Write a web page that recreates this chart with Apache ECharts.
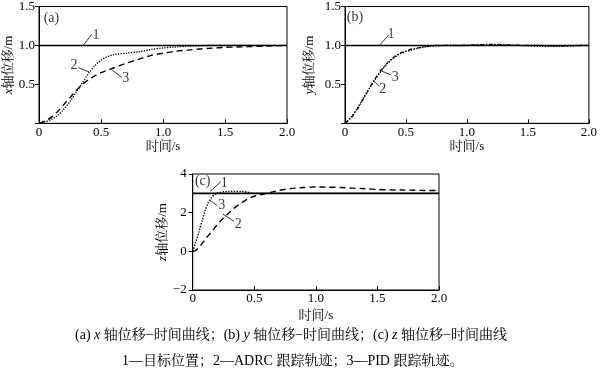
<!DOCTYPE html>
<html>
<head>
<meta charset="utf-8">
<script src="https://cdn.jsdelivr.net/npm/echarts@6/dist/echarts.min.js"></script>
<style>html,body{margin:0;padding:0;background:#fff}#c{width:600px;height:373px}</style>
</head>
<body>
<div id="c"></div>
<script>
// ---------- data ----------
const xTicks = [0, 0.5, 1.0, 1.5, 2.0];
// (a) x axis displacement
const tA = [0,0.05,0.1,0.15,0.2,0.25,0.3,0.35,0.4,0.45,0.5,0.55,0.6,0.65,0.7,0.8,0.9,1.0,1.1,1.2,1.3,1.4,1.5,1.6,1.7,1.8,1.9,2.0];
const a1 = [1,1,1,1,1,1,1,1,1,1,1,1,1,1,1,1,1,1,1,1,1,1,1,1,1,1,1,1];
const a2 = [0,0.02,0.05,0.1,0.18,0.28,0.4,0.52,0.64,0.74,0.81,0.855,0.88,0.893,0.9,0.918,0.948,0.968,0.98,0.99,0.995,1.0,1.0,1.0,1.0,1.0,1.0,1.0];
const a3 = [0,0.03,0.08,0.15,0.24,0.33,0.42,0.5,0.56,0.61,0.65,0.68,0.71,0.74,0.77,0.82,0.87,0.9,0.925,0.94,0.955,0.965,0.975,0.98,0.985,0.99,0.995,1.0];
// (b) y axis displacement
const tB = [0,0.05,0.1,0.15,0.2,0.25,0.3,0.35,0.4,0.45,0.5,0.55,0.6,0.65,0.7,0.75,0.8,0.9,1.0,1.1,1.2,1.3,1.4,1.5,1.6,1.7,1.8,1.9,2.0];
const b1 = [1,1,1,1,1,1,1,1,1,1,1,1,1,1,1,1,1,1,1,1,1,1,1,1,1,1,1,1,1];
const b2 = [0,0.08,0.19,0.32,0.45,0.57,0.68,0.77,0.84,0.89,0.92,0.945,0.965,0.98,0.99,0.995,0.997,1.0,1.0,1.005,1.01,1.005,1.0,0.995,0.99,0.99,0.99,0.995,1.0];
const b3 = [0,0.07,0.18,0.31,0.45,0.58,0.69,0.78,0.85,0.9,0.93,0.955,0.97,0.985,0.995,1.0,1.0,1.0,1.005,1.01,1.015,1.01,1.005,1.0,1.0,0.995,0.995,1.0,1.0];
// (c) z axis displacement
const tC = [0,0.025,0.05,0.075,0.1,0.125,0.15,0.175,0.2,0.25,0.3,0.35,0.4,0.45,0.5,0.6,0.7,0.8,0.9,1.0,1.1,1.2,1.3,1.4,1.5,1.6,1.7,1.8,1.9,2.0];
const c1 = [3,3,3,3,3,3,3,3,3,3,3,3,3,3,3,3,3,3,3,3,3,3,3,3,3,3,3,3,3,3];
const c2 = [0,0.05,0.2,0.4,0.6,0.8,0.98,1.18,1.38,1.72,2.02,2.3,2.52,2.72,2.85,3.0,3.15,3.25,3.3,3.33,3.32,3.3,3.27,3.24,3.2,3.18,3.17,3.16,3.15,3.15];
const c3 = [0,0.5,1.0,1.55,2.1,2.5,2.75,2.92,3.02,3.08,3.1,3.1,3.1,3.05,3.0,3.0,3.0,3.0,3.0,3.0,3.0,3.0,3.0,3.0,3.0,3.0,3.0,3.0,3.0,3.0];

// annotation labels (curve numbers) with leader lines, in data coordinates
const annA = [
  {text:'1', from:[0.357,1.0], to:[0.425,1.145], at:[0.46,1.13]},
  {text:'2', from:[0.406,0.658], to:[0.317,0.716], at:[0.282,0.75]},
  {text:'3', from:[0.586,0.688], to:[0.667,0.591], at:[0.70,0.575]}
];
const annB = [
  {text:'1', from:[0.283,1.0], to:[0.359,1.135], at:[0.378,1.143]},
  {text:'3', from:[0.283,0.681], to:[0.378,0.622], at:[0.413,0.596]},
  {text:'2', from:[0.235,0.546], to:[0.283,0.47], at:[0.31,0.441]}
];
const annC = [
  {text:'1', from:[0.141,3.10], to:[0.23,3.61], at:[0.257,3.53]},
  {text:'3', from:[0.141,2.63], to:[0.2,2.36], at:[0.236,2.36]},
  {text:'2', from:[0.244,1.93], to:[0.336,1.55], at:[0.37,1.38]}
];
const panelTags = [
  {text:'(a)', at:[0.1,1.35]},
  {text:'(b)', at:[0.081,1.366]},
  {text:'(c)', at:[0.081,3.61]}
];

// ---------- chart ----------
const FONT = "'Liberation Serif','Noto Serif CJK SC','Noto Sans CJK SC',serif";
const pair = (t, v) => t.map((x, i) => [x, v[i]]);

function xAxisFor(g, gap, margin) {
  return {
    type:'value', gridIndex:g, min:0, max:2, interval:0.5,
    axisLine:{show:true, onZero:false, lineStyle:{color:'#000', width:1}},
    axisTick:{show:true, inside:true, length:4, lineStyle:{color:'#000'}},
    axisLabel:{color:'#000', fontFamily:FONT, fontSize:13, margin:margin,
      formatter: v => v === 0 ? '0' : v.toFixed(1)},
    splitLine:{show:false},
    name:'时间/s', nameLocation:'middle', nameGap:gap,
    nameTextStyle:{color:'#000', fontFamily:FONT, fontSize:13}
  };
}
function yAxisFor(g, letter, min, max, interval, fmt, gap, margin) {
  return {
    type:'value', gridIndex:g, min:min, max:max, interval:interval,
    axisLine:{show:true, onZero:false, lineStyle:{color:'#000', width:1}},
    axisTick:{show:true, inside:false, length:4, lineStyle:{color:'#000'}},
    axisLabel:{color:'#000', fontFamily:FONT, fontSize:13, margin:margin, formatter:fmt},
    splitLine:{show:false},
    name:'{i|' + letter + '}轴位移/m', nameLocation:'middle', nameGap:gap, nameRotate:90,
    nameTextStyle:{color:'#000', fontFamily:FONT, fontSize:13,
      rich:{i:{fontStyle:'italic', fontFamily:FONT, fontSize:13, color:'#000'}}}
  };
}

const series = [];
function addPanel(g, t, s1, s2, s3, ann, tag, style2, style3) {
  series.push({type:'line', xAxisIndex:g, yAxisIndex:g, data:pair(t, s1), showSymbol:false,
    lineStyle:{color:'#000', width:1.6, type:'solid'}, z:3});
  series.push({type:'line', xAxisIndex:g, yAxisIndex:g, data:pair(t, s2), showSymbol:false, smooth:0.3,
    lineStyle:Object.assign({color:'#000'}, style2), z:2});
  series.push({type:'line', xAxisIndex:g, yAxisIndex:g, data:pair(t, s3), showSymbol:false, smooth:0.3,
    lineStyle:Object.assign({color:'#000'}, style3), z:2});
  ann.forEach(a => {
    series.push({type:'line', xAxisIndex:g, yAxisIndex:g, data:[a.from, a.to], showSymbol:false,
      lineStyle:{color:'#000', width:0.8}, z:4, silent:true});
  });
  series.push({type:'scatter', xAxisIndex:g, yAxisIndex:g, symbolSize:1, itemStyle:{color:'rgba(0,0,0,0)'},
    data: ann.map(a => ({value:a.at, name:a.text})).concat([{value:tag.at, name:tag.text}]),
    label:{show:true, position:'inside', formatter:p => p.name, color:'#000', fontFamily:FONT, fontSize:14},
    z:5, silent:true});
}

addPanel(0, tA, a1, a2, a3, annA, panelTags[0], {type:'dotted', width:1.3}, {type:[6,4], width:1.4});
addPanel(1, tB, b1, b2, b3, annB, panelTags[1], {type:'dotted', width:1.4}, {type:[4,2,1,2], width:1.2});
addPanel(2, tC, c1, c2, c3, annC, panelTags[2], {type:[6,4], width:1.4}, {type:'dotted', width:1.4});

const oneDec = v => v === 0 ? '' : v.toFixed(1);
const intFmt = v => v < 0 ? '−' + Math.abs(v) : String(v);

const option = {
  animation:false,
  backgroundColor:'#fff',
  title:[
    {text:'(a) {i|x} 轴位移−时间曲线；(b) {i|y} 轴位移−时间曲线；(c) {i|z} 轴位移−时间曲线',
     left:75, top:328, padding:0,
     textStyle:{color:'#000', fontFamily:FONT, fontSize:14, fontWeight:'normal',
       rich:{i:{fontStyle:'italic', fontFamily:FONT, fontSize:14, color:'#000'}}}},
    {text:'1—目标位置；2—ADRC 跟踪轨迹；3—PID 跟踪轨迹。',
     left:122, top:354, padding:0,
     textStyle:{color:'#000', fontFamily:FONT, fontSize:14, fontWeight:'normal'}}
  ],
  grid:[
    {left:39, top:3.5, width:248, height:119.8, show:true, borderColor:'#000', borderWidth:1},
    {left:345, top:4.3, width:247, height:119, show:true, borderColor:'#000', borderWidth:1},
    {left:192.7, top:174, width:246.3, height:116, show:true, borderColor:'#000', borderWidth:1}
  ],
  xAxis:[xAxisFor(0, 17, 3), xAxisFor(1, 17, 3), xAxisFor(2, 19, 2)],
  yAxis:[
    yAxisFor(0, 'x', 0, 1.5, 0.5, oneDec, 22, 4),
    yAxisFor(1, 'y', 0, 1.5, 0.5, oneDec, 29, 4),
    yAxisFor(2, 'z', -2, 4, 2, intFmt, 19, 6)
  ],
  series:series
};
const chart = echarts.init(document.getElementById('c'), null, {renderer:'canvas'});
chart.setOption(option);
</script>
</body>
</html>
